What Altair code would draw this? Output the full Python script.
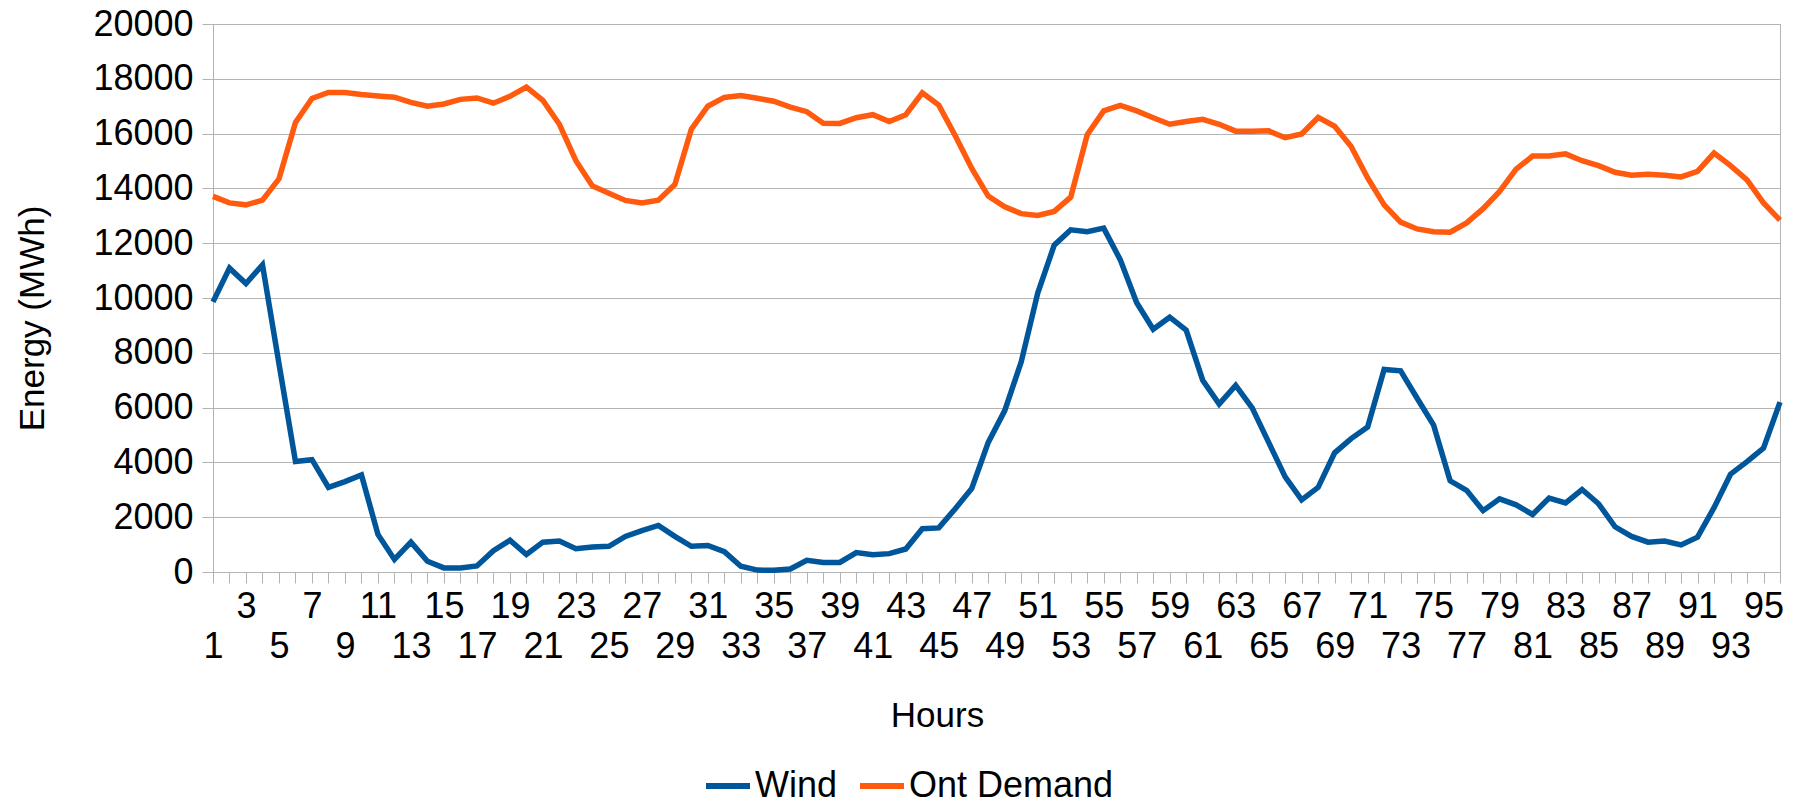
import altair as alt
import pandas as pd

hours = list(range(1, 97))

wind = [
    9860, 11090, 10530, 11210, 7600, 4030, 4100, 3090, 3300, 3540,
    1370, 460, 1090, 390, 150, 150, 220, 780, 1160, 640,
    1090, 1130, 850, 910, 940, 1300, 1510, 1700, 1300, 940,
    970, 740, 210, 70, 60, 110, 430, 350, 350, 710,
    630, 670, 840, 1580, 1610, 2310, 3050, 4730, 5890, 7670,
    10180, 11930, 12490, 12420, 12550, 11400, 9830, 8860, 9300, 8830,
    7000, 6130, 6810, 5990, 4730, 3470, 2630, 3090, 4350, 4870,
    5290, 7390, 7340, 6340, 5360, 3330, 2980, 2240, 2670, 2450,
    2100, 2700, 2520, 3010, 2490, 1650, 1300, 1090, 1130, 990,
    1270, 2350, 3570, 4030, 4520, 6200,
]

demand = [
    13710, 13470, 13400, 13570, 14350, 16410, 17280, 17500, 17500, 17430,
    17375, 17330, 17140, 17000, 17080, 17250, 17300, 17110, 17360, 17700,
    17210, 16340, 15010, 14090, 13820, 13560, 13470, 13570, 14140, 16160,
    17000, 17320, 17390, 17290, 17180, 16970, 16800, 16380, 16370, 16580,
    16690, 16440, 16690, 17490, 17040, 15920, 14730, 13720, 13330, 13080,
    13010, 13160, 13680, 15960, 16830, 17030, 16830, 16580, 16340, 16440,
    16520, 16340, 16090, 16090, 16100, 15850, 15990, 16590, 16270, 15530,
    14380, 13400, 12770, 12520, 12420, 12400, 12740, 13260, 13890, 14700,
    15180, 15180, 15260, 15010, 14830, 14590, 14480, 14520, 14480, 14420,
    14620, 15290, 14830, 14310, 13470, 12840,
]

series_names = ["Wind", "Ont Demand"]
series_colors = ["#00569a", "#ff5a0e"]
y_ticks = list(range(0, 20001, 2000))

df = pd.DataFrame({
    "Hour": hours + hours,
    "Energy": wind + demand,
    "Series": [series_names[0]] * len(hours) + [series_names[1]] * len(hours),
})

FONT = "Liberation Sans"
GRID = "#b3b3b3"

x_axis = alt.Axis(
    values=hours,
    labelExpr="datum.value % 4 == 3 ? datum.label : (datum.value % 4 == 1 ? ['', datum.label] : '')",
    labelOverlap=False,
    labelFlush=False,
    labelFont=FONT,
    labelFontSize=36,
    labelColor="black",
    labelLineHeight=40,
    labelPadding=6,
    tickSize=11,
    tickColor=GRID,
    domainColor=GRID,
    grid=False,
    title="Hours",
    titleFont=FONT,
    titleFontSize=35,
    titleFontWeight="normal",
    titleColor="black",
    titleX=724,
    titleY=143,
    titleAlign="center",
    titleBaseline="middle",
)

y_axis = alt.Axis(
    values=y_ticks,
    format="d",
    labelFont=FONT,
    labelFontSize=36,
    labelColor="black",
    labelPadding=9,
    tickSize=11,
    tickColor=GRID,
    domainColor=GRID,
    grid=True,
    gridColor=GRID,
    title="Energy (MWh)",
    titleFont=FONT,
    titleFontSize=35,
    titleFontWeight="normal",
    titleColor="black",
    titleAngle=270,
    titleX=-181,
    titleY=294,
    titleAlign="center",
    titleBaseline="middle",
)

chart = (
    alt.Chart(df)
    .mark_line(strokeWidth=5.5)
    .encode(
        x=alt.X("Hour:Q", scale=alt.Scale(domain=[1, 96], nice=False, zero=False), axis=x_axis),
        y=alt.Y("Energy:Q", scale=alt.Scale(domain=[0, 20000], nice=False), axis=y_axis),
        color=alt.Color(
            "Series:N",
            scale=alt.Scale(domain=series_names, range=series_colors),
            sort=series_names,
            legend=alt.Legend(
                orient="none",
                legendX=490,
                legendY=737,
                direction="horizontal",
                title=None,
                symbolType="stroke",
                symbolSize=1936,
                symbolStrokeWidth=6,
                labelFont=FONT,
                labelFontSize=36,
                labelColor="black",
                labelOffset=2,
                labelLimit=600,
                columnPadding=10,
            ),
        ),
        order=alt.Order("Hour:Q"),
    )
    .properties(
        width=1567,
        height=548,
        autosize=alt.AutoSizeParams(type="none"),
        padding={"left": 205, "top": 16, "right": 16, "bottom": 234},
        background="white",
    )
    .configure_view(stroke=GRID, strokeWidth=1)
)

chart.save("out.html", embed_options={"renderer": "svg", "actions": False})
